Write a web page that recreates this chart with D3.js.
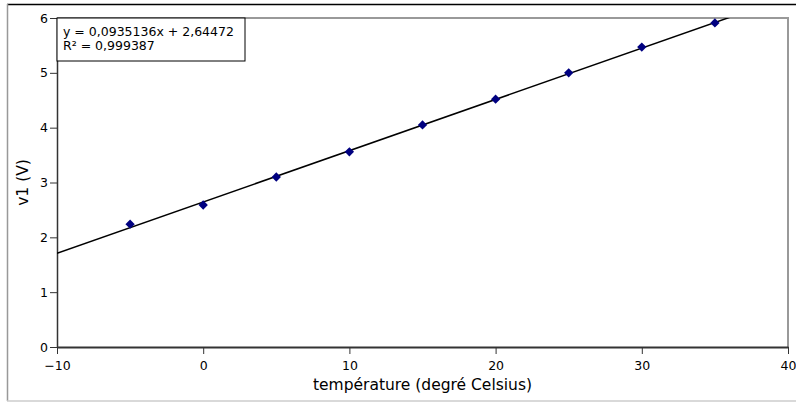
<!DOCTYPE html>
<html>
<head>
<meta charset="utf-8">
<script src="https://cdn.jsdelivr.net/npm/d3@7"></script>
<style>
	body { margin: 0; background: #fff; }
	text { font-family: "DejaVu Sans", sans-serif; fill: #000; }
	.axis text { font-size: 12.5px; }
	.axis path, .axis line { stroke: #333; }
</style>
</head>
<body>
<svg id="chart" width="796" height="403"></svg>
<script>
/* Data */
var temperature = [-5, 0, 5, 10, 15, 20, 25, 30, 35];
var v1 = [2.24, 2.59, 3.10, 3.56, 4.05, 4.52, 5.00, 5.47, 5.91];
var xTicks = [-10, 0, 10, 20, 30, 40];
var yTicks = [0, 1, 2, 3, 4, 5, 6];
var slope = 0.0935136, intercept = 2.64472;
var legendLines = ["y = 0,0935136x + 2,64472", "R\u00b2 = 0,999387"];

var svg = d3.select("#chart");

var margin = {top: 18, right: 8, bottom: 56, left: 57},
	width = 796 - margin.left - margin.right,
	height = 403 - margin.top - margin.bottom;

/* Outer frame */
svg.append("line").attr("x1", 7).attr("x2", 796).attr("y1", 4.5).attr("y2", 4.5)
	.attr("stroke", "#000").attr("stroke-width", 1.5);
svg.append("line").attr("x1", 7.5).attr("x2", 7.5).attr("y1", 4).attr("y2", 401)
	.attr("stroke", "#999").attr("stroke-width", 1.5);
svg.append("line").attr("x1", 7).attr("x2", 796).attr("y1", 401).attr("y2", 401)
	.attr("stroke", "#ccc").attr("stroke-width", 1.5);

var g = svg.append("g")
	.attr("transform", "translate(" + margin.left + "," + margin.top + ")");

var x = d3.scaleLinear().domain([-10, 40]).range([0, width]);
var y = d3.scaleLinear().domain([0, 6]).range([height, 0]);

/* Plot area border (top / right) */
g.append("path")
	.attr("d", "M0,0H" + width + "V" + height)
	.attr("fill", "none")
	.attr("stroke", "#999")
	.attr("stroke-width", 2);

/* Axes */
g.append("g")
	.attr("class", "axis axis--x")
	.attr("transform", "translate(0," + height + ")")
	.call(d3.axisBottom(x).tickValues(xTicks).tickSize(7).tickSizeOuter(0)
		.tickFormat(function(d){ return d < 0 ? "\u2212" + Math.abs(d) : d; }))
	.call(function(a){ a.select(".domain").attr("stroke-width", 2).attr("stroke", "#333"); })
	.selectAll("text").attr("dy", "1.05em");

g.append("g")
	.attr("class", "axis axis--y")
	.call(d3.axisLeft(y).tickValues(yTicks).tickSize(7).tickSizeOuter(0).tickFormat(d3.format("d")))
	.call(function(a){ a.select(".domain").attr("stroke", "#000").attr("stroke-width", 1.5); })
	.selectAll("text").attr("x", -9);

/* Axis labels */
svg.append("text")
	.attr("transform", "translate(28," + (margin.top + height / 2) + ") rotate(-90)")
	.attr("text-anchor", "middle")
	.attr("font-size", 15.5)
	.text("v1 (V)");

svg.append("text")
	.attr("x", margin.left + width / 2)
	.attr("y", 390)
	.attr("text-anchor", "middle")
	.attr("font-size", 15.5)
	.text("température (degré Celsius)");

/* Regression line, clipped to plot area */
g.append("clipPath").attr("id", "clip")
	.append("rect").attr("width", width).attr("height", height);

var line = d3.line()
	.x(function(d){ return x(d); })
	.y(function(d){ return y(slope * d + intercept); });

g.append("path")
	.datum(x.domain())
	.attr("clip-path", "url(#clip)")
	.attr("fill", "none")
	.attr("stroke", "#000")
	.attr("stroke-width", 1.5)
	.attr("d", line);

/* Points */
var diamond = d3.symbol().type(d3.symbolDiamond2).size(55);

g.selectAll(".dot")
	.data(temperature)
	.enter().append("path")
	.attr("class", "dot")
	.attr("transform", function(d, i){ return "translate(" + x(d) + "," + y(v1[i]) + ")"; })
	.attr("fill", "#000080")
	.attr("d", diamond);

/* Legend box */
var legend = g.append("g");
legend.append("rect")
	.attr("x", 0).attr("y", 0)
	.attr("width", 188).attr("height", 43)
	.attr("fill", "#fff")
	.attr("stroke", "#000")
	.attr("stroke-width", 1);

legend.selectAll("text")
	.data(legendLines)
	.enter().append("text")
	.attr("x", 6)
	.attr("y", function(d, i){ return 18 + i * 14; })
	.attr("font-size", 12.5)
	.text(function(d){ return d; });
</script>
</body>
</html>
